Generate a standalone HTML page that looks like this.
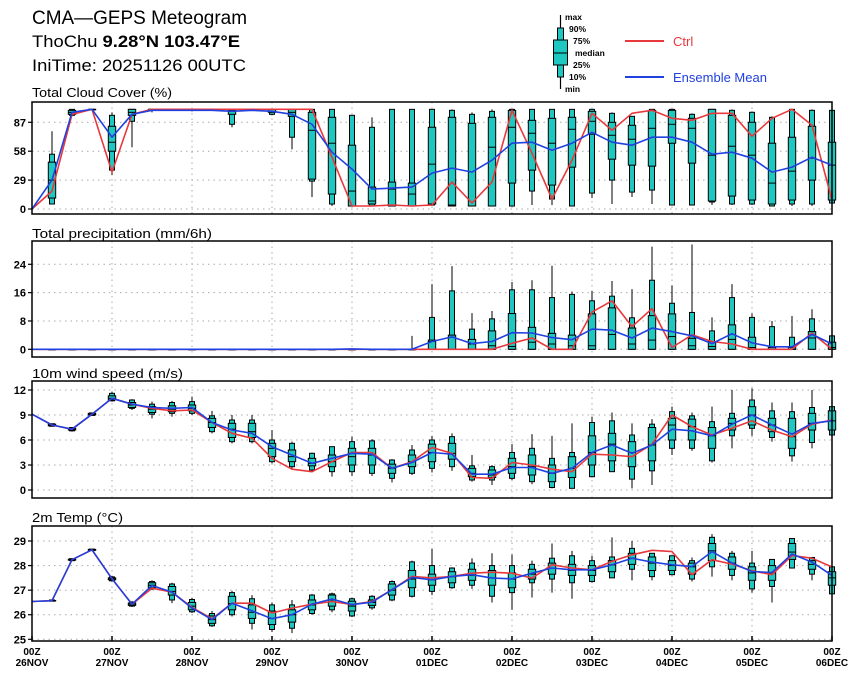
<!DOCTYPE html>
<html><head><meta charset="utf-8">
<style>
html,body{margin:0;padding:0;background:#fff;}
svg{display:block;font-family:"Liberation Sans",sans-serif;}
</style></head>
<body>
<svg id="chart" width="860" height="680" viewBox="0 0 860 680">
  <text x="32" y="24" font-size="19" textLength="215" lengthAdjust="spacingAndGlyphs">CMA—GEPS Meteogram</text>
  <text x="32" y="47" font-size="17" textLength="208" lengthAdjust="spacingAndGlyphs">ThoChu <tspan font-weight="bold">9.28°N 103.47°E</tspan></text>
  <text x="32" y="71" font-size="17" textLength="214" lengthAdjust="spacingAndGlyphs">IniTime: 20251126 00UTC</text>
  <g id="legend">
    <line x1="560.5" y1="15" x2="560.5" y2="89" stroke="#000" stroke-width="1.2"/>
    <rect x="557.5" y="28" width="6" height="49" fill="#1ec8c0" stroke="#000"/>
    <rect x="553.5" y="40" width="14" height="25" fill="#1ec8c0" stroke="#000"/>
    <line x1="553.5" y1="53" x2="567.5" y2="53" stroke="#000"/>
    <g font-size="8.5" font-weight="bold">
      <text x="565" y="20">max</text>
      <text x="569" y="32">90%</text>
      <text x="573" y="44">75%</text>
      <text x="575" y="56">median</text>
      <text x="573" y="68">25%</text>
      <text x="569" y="80">10%</text>
      <text x="565" y="92">min</text>
    </g>
    <line x1="625" y1="41" x2="664" y2="41" stroke="#e8383c" stroke-width="2"/>
    <text x="673" y="46" font-size="13" fill="#e8383c">Ctrl</text>
    <line x1="625" y1="77" x2="664" y2="77" stroke="#2040e0" stroke-width="2"/>
    <text x="673" y="82" font-size="13" fill="#2040e0">Ensemble Mean</text>
  </g>
</svg>
<script>
// ---- data ----
const dayLabels = ["26NOV","27NOV","28NOV","29NOV","30NOV","01DEC","02DEC","03DEC","04DEC","05DEC","06DEC"];
const cloudTicks = [0,29,58,87];
const precipTicks = [0,8,16,24];
const windTicks = [0,3,6,9,12];
const tempTicks = [25,26,27,28,29];

const cloudCtrl = [0,18,95,100,37,95,100,100,100,100,100,100,100,100,100,52,3,3,4,3,4,27,6,27,99,56,10,49,96,79,96,99,91,89,96,96,73,91,100,84,9];
const cloudMean = [0,29,97,100,72,95,99,99,99,99,98,99,98,95,85,57,40,20,21,22,36,41,37,49,66,67,59,66,77,67,64,72,72,67,55,57,51,37,42,52,44];
const cloudBox = [null,
[5,5,11,29,47,55,78],[93,94,95,97,99,100,100],[100,100,100,100,100,100,100],[34,39,58,67,83,94,97],
[62,88,94,97,100,100,100],[97,99,99,100,100,100,100],[100,100,100,100,100,100,100],[98,99,100,100,100,100,100],
[100,100,100,100,100,100,100],[82,85,95,98,99,100,100],[100,100,100,100,100,100,100],[94,95,97,100,100,100,100],
[60,72,93,97,100,100,100],[12,28,30,79,97,100,100],[3,5,15,66,92,100,100],[3,3,3,18,64,94,94],
[3,3,5,8,22,82,92],[3,3,3,20,27,100,100],[3,3,3,15,26,100,100],[3,4,5,45,82,100,100],
[3,3,3,4,92,99,100],[3,3,3,3,86,95,97],[3,3,3,62,92,98,100],[3,3,26,82,99,100,100],
[4,18,39,76,89,100,100],[4,10,24,66,91,100,100],[3,3,42,80,92,100,100],[11,16,75,88,98,100,100],
[5,29,50,74,87,96,97],[12,17,44,70,84,93,93],[5,19,43,81,99,100,100],[4,4,66,85,99,100,100],
[4,4,46,81,91,95,96],[4,7,8,54,100,100,100],[4,5,13,63,94,99,100],[4,5,9,54,87,97,98],
[3,3,5,26,66,92,93],[3,5,9,38,72,100,100],[3,5,29,51,83,99,100],[3,6,9,44,67,99,100]];

const precipCtrl = [0,0,0,0,0,0,0,0,0,0,0,0,0,0,0,0,0,0,0,0,0,0,0,0,1.7,3.2,0,0,10.5,13.7,6.4,11.5,0.5,4.1,2.2,1.5,0,0,0,4.6,0];
const precipMean = [0,0,0,0,0,0,0,0,0,0,0,0,0,0,0,0,0.1,0,0,0,2.2,3.5,1.6,2.2,4.7,4.6,3.3,2.7,5.7,5.4,3.2,6,5,3.8,1.6,4.4,1.8,0.7,0.7,4.2,1.5];
const precipBox = [null,
[0,0,0,0,0,0,0],[0,0,0,0,0,0,0],[0,0,0,0,0,0,0],[0,0,0,0,0,0,0],[0,0,0,0,0,0,0],
[0,0,0,0,0,0,0],[0,0,0,0,0,0,0],[0,0,0,0,0,0,0],[0,0,0,0,0,0,0],[0,0,0,0,0,0,0],
[0,0,0,0,0,0,0],[0,0,0,0,0,0,0],[0,0,0,0,0,0,0],[0,0,0,0,0,0,0],[0,0,0,0,0,0,0],
[0,0,0,0,0,0,0.3],[0,0,0,0,0,0,0],[0,0,0,0,0,0,0],[0,0,0,0,0,0,3.8],
[0,0,0,2.2,2.6,9,18.4],[0,0,0,3.4,4,16.5,23.5],[0,0,0,1.5,2.8,5.7,10.2],[0,0,0,1,5.2,8.6,10.8],
[0,0,0,0.8,10.1,16.8,19],[0,0,0,2,6.2,16.8,19.5],[0,0,0,1.5,4.5,14.6,23.6],[0,0,0,1,4,15.5,16.3],
[0,0,0,1,10,13.7,16.5],[0,0,0,4.2,11.7,15,19.3],[0,0,0,1.5,6,8.9,17],[0,0,0,2.6,9.5,19.5,29],
[0,0,0,3.6,10,13,18],[0,0,0,1,3.1,10.4,29.6],[0,0,0,0.8,2.2,5.2,9],[0,0,0,2.8,6.9,14.6,18.4],
[0,0,0,0.5,3.4,9,10.1],[0,0,0,0,0.5,6.4,8],[0,0,0,0,0.5,3.4,9.4],[0,0,0,3.2,5,8.6,11.3],[0,0,0,0.5,2,3.8,4]];

const windCtrl = [9.1,7.8,7.3,9.1,11,10.3,9.8,9.5,9.6,8.1,6.8,6.2,3.8,2.5,2.2,3.4,4.5,4.5,2.6,3.4,5.1,4.4,1.5,1.4,3.3,3,2.5,2.2,4.3,4.2,4,5.5,9,7.6,6.6,7.4,8.3,7.2,6.4,7.9,8.4];
const windMean = [9.1,7.8,7.3,9.1,11,10.3,9.9,9.8,9.9,8.1,7.2,6.8,5.2,4.2,3.2,3.8,4.4,4.3,2.6,3.3,4.5,4.3,1.9,1.9,2.7,2.7,2,2.6,4.5,5.4,4.4,5.4,7.3,7.1,6.5,7.9,9,7.8,6.7,8,8.3];
const windBox = [null,
[7.6,7.65,7.7,7.8,7.9,7.95,8],[7,7.1,7.2,7.3,7.4,7.5,7.5],[8.9,8.95,9,9.1,9.2,9.25,9.3],[10.6,10.7,10.8,11,11.3,11.6,11.8],
[9.6,9.8,9.9,10.2,10.5,10.8,10.9],[8.6,9.1,9.3,9.7,10,10.3,10.6],[8.8,9.2,9.4,9.7,10.1,10.5,10.7],[9,9.2,9.5,9.8,10.2,10.6,11.2],
[6.8,7,7.5,8.1,8.6,8.9,9.5],[5.6,5.8,6.3,7.3,8,8.4,9],[5.6,5.8,6.3,7,8,8.4,9],[3.2,3.4,4,5,5.6,6,7.2],
[2.4,2.8,3.4,4,4.8,5.6,5.8],[2.1,2.4,2.9,3.2,3.8,4.4,4.5],[1.6,2.2,2.8,3.4,4.2,5.2,5.2],[1.7,2.2,3,4,5,5.8,6.4],
[1.7,2,3,4.2,5,5.9,6.1],[0.9,1.4,2,2.6,3.1,3.6,3.7],[1.8,2,2.8,3.4,4.2,4.8,5.4],[2.1,2.6,3.4,4.5,5.5,6,6.5],
[2.3,2.8,3.7,4.4,5.6,6.4,6.8],[1,1.2,1.6,2,2.6,2.9,4.2],[0.6,1.2,1.5,1.8,2.4,2.8,3],[1.2,1.4,2,2.8,3.8,4.5,5.5],
[0.7,1,1.8,2.8,4.2,5,6.7],[0.2,0.3,1,2,3,3.8,6.5],[0.2,0.2,1.5,2.6,4,4.5,8],[1.5,1.6,3,4.5,6.5,8.1,8.8],
[2.2,2.2,3.5,5.5,6.8,8.3,9.3],[0.2,1.3,2.8,4.5,5.8,6.6,8],[0.6,2.3,3.5,5.4,7.5,7.9,8.5],[4.2,5,6,7.8,8.6,9.4,10],
[4.7,5,6,7.6,8.5,8.9,9.3],[3.3,3.5,5,6.5,7.5,8.2,10],[5,6.5,7.2,8,8.6,9.2,12],[6.5,7.4,7.8,9,10,10.8,12.2],
[5.8,6.3,7,7.8,8.6,9.5,10.5],[3.4,4.1,5,6.4,8.6,9.4,10.5],[5,5.7,7.2,8,9.2,9.9,12],[6.5,6.6,7.2,8.3,9.5,10,10.2]];

const tempCtrl = [26.54,26.57,28.24,28.64,27.46,26.43,27.08,26.92,26.3,25.84,26.47,26.47,26.07,26.27,26.43,26.54,26.41,26.54,27.02,27.56,27.5,27.56,27.69,27.73,27.69,27.49,28.03,27.9,27.83,28.17,28.44,28.62,28.57,27.63,28.24,28.06,27.79,27.63,28.41,28.3,27.94];
const tempMean = [26.54,26.57,28.24,28.64,27.46,26.43,27.19,26.92,26.27,25.8,26.47,26.16,25.84,26,26.43,26.64,26.41,26.51,27.02,27.52,27.42,27.56,27.63,27.49,27.46,27.69,27.9,27.83,27.83,28.03,28.3,28.14,28.03,27.96,28.57,28.1,27.76,27.72,28.47,28.14,27.6];
const tempBox = [null,
[26.55,26.55,26.56,26.57,26.58,26.6,26.6],[28.18,28.2,28.22,28.24,28.26,28.28,28.3],[28.6,28.61,28.62,28.64,28.66,28.67,28.68],[27.35,27.38,27.42,27.46,27.5,27.54,27.58],
[26.32,26.35,26.38,26.43,26.48,26.52,26.55],[27,27.05,27.1,27.2,27.3,27.35,27.4],[26.47,26.6,26.8,26.95,27.15,27.25,27.3],[26.07,26.12,26.2,26.35,26.5,26.62,26.68],
[25.5,25.55,25.65,25.8,25.95,26.05,26.15],[25.93,26,26.2,26.45,26.75,26.9,26.97],[25.4,25.65,25.85,26.1,26.4,26.65,26.8],[25.3,25.4,25.6,25.85,26.15,26.4,26.5],
[25.25,25.45,25.7,26,26.2,26.4,26.6],[26,26.05,26.2,26.4,26.6,26.8,26.85],[26.1,26.2,26.35,26.6,26.8,26.85,26.9],[25.9,25.95,26.15,26.35,26.55,26.65,26.7],
[26.2,26.28,26.38,26.5,26.6,26.75,26.8],[26.55,26.6,26.8,27,27.25,27.35,27.4],[26.7,26.75,27.1,27.45,27.8,28.15,28.2],[26.8,26.95,27.2,27.42,27.65,28,28.68],
[27.05,27.1,27.3,27.55,27.75,27.9,27.93],[27.05,27.2,27.4,27.6,27.85,28.1,28.3],[26.5,26.75,27.2,27.5,27.8,28,28.5],[26.2,26.9,27.1,27.45,27.7,28,28.45],
[26.7,27.3,27.45,27.65,27.85,28.05,28.2],[26.9,27.45,27.65,27.9,28.1,28.3,28.9],[26.65,27.3,27.6,27.8,28.05,28.4,28.6],[27.3,27.35,27.6,27.8,28,28.2,28.4],
[27.5,27.5,27.75,28.03,28.2,28.35,29.15],[27.4,27.85,28.05,28.3,28.5,28.7,29],[27.4,27.55,27.8,28.1,28.35,28.5,28.5],[27.6,27.63,27.8,28,28.2,28.4,28.4],
[27.35,27.45,27.65,27.95,28.1,28.2,28.33],[27.55,27.95,28.2,28.6,28.9,29.15,29.28],[27.4,27.6,27.85,28.1,28.35,28.5,28.6],[26.9,27.05,27.4,27.7,27.95,28.1,28.6],
[26.5,27.15,27.4,27.7,28,28.25,28.25],[27.9,27.9,28.25,28.55,28.9,29.1,29.1],[27.4,27.65,27.85,28.05,28.2,28.33,28.33],[26.8,26.85,27.2,27.5,27.75,27.95,28]];

// ---- drawing ----
const NS = "http://www.w3.org/2000/svg";
const svg = document.getElementById("chart");
const X0 = 32, X1 = 832, NSTEP = 40;
function xOf(i){ return X0 + (X1 - X0) * i / NSTEP; }
function mk(tag, attrs, parent){
  const e = document.createElementNS(NS, tag);
  for (const k in attrs) e.setAttribute(k, attrs[k]);
  (parent || svg).appendChild(e);
  return e;
}

const panels = [
  {key:"cloud", title:"Total Cloud Cover (%)", titleW:140, titleY:97, top:102, bot:214, v0:0, y0:209, v1:87, y1:122.3, ticks:cloudTicks, ctrl:cloudCtrl, mean:cloudMean, box:cloudBox},
  {key:"precip", title:"Total precipitation (mm/6h)", titleW:180, titleY:238, top:241, bot:357, v0:0, y0:349.3, v1:24, y1:264.3, ticks:precipTicks, ctrl:precipCtrl, mean:precipMean, box:precipBox},
  {key:"wind", title:"10m wind speed (m/s)", titleW:151, titleY:378, top:381, bot:498, v0:0, y0:490, v1:12, y1:390, ticks:windTicks, ctrl:windCtrl, mean:windMean, box:windBox},
  {key:"temp", title:"2m Temp (°C)", titleW:91, titleY:522, top:526, bot:641, v0:25, y0:639.3, v1:29, y1:541, ticks:tempTicks, ctrl:tempCtrl, mean:tempMean, box:tempBox}
];

panels.forEach(function(p){
  const yOf = function(v){ return p.y0 + (v - p.v0) * (p.y1 - p.y0) / (p.v1 - p.v0); };
  const g = mk("g", {});
  
  

  const t = mk("text", {x:32, y:p.titleY, "font-size":13, textLength:p.titleW, lengthAdjust:"spacingAndGlyphs"}, g);
  t.textContent = p.title;
  
  

  for (let d = 1; d < 10; d++){
    const x = xOf(d*4);
    const gl = mk("line", {x1:x, x2:x, y1:p.top, y2:p.bot, stroke:"#aaa", "stroke-width":1, "stroke-dasharray":"1.5,4"}, g);
    
    
  }
  p.ticks.forEach(function(tv){
    const y = yOf(tv);
    const gl = mk("line", {x1:X0, x2:X1, y1:y, y2:y, stroke:"#aaa", "stroke-width":1, "stroke-dasharray":"1.5,4"}, g);
    
    
    const tk = mk("line", {x1:X0-4, x2:X0, y1:y, y2:y, stroke:"#000", "stroke-width":1.2}, g);
    
    
    const lb = mk("text", {x:X0-6, y:y+4, "font-size":11, "font-weight":"bold", "text-anchor":"end"}, g);
    lb.textContent = String(tv);
    
    
  });

  p.box.forEach(function(b, i){
    if (!b) return;
    const x = xOf(i);
    const bg = mk("g", {}, g);
    
    
    mk("line", {x1:x, x2:x, y1:yOf(b[6]), y2:yOf(b[0]), stroke:"#000", "stroke-width":1}, bg);
    const y90 = yOf(b[5]), y10 = yOf(b[1]);
    mk("rect", {x:x-2.5, y:y90, width:5, height:Math.max(0.5, y10-y90), fill:"#1ec8c0", stroke:"#000", "stroke-width":1}, bg);
    const y75 = yOf(b[4]), y25 = yOf(b[2]);
    mk("rect", {x:x-3.7, y:y75, width:7.4, height:Math.max(0.5, y25-y75), fill:"#1ec8c0", stroke:"#000", "stroke-width":1}, bg);
    const ym = yOf(b[3]);
    mk("line", {x1:x-3.7, x2:x+3.7, y1:ym, y2:ym, stroke:"#000", "stroke-width":1}, bg);
  });

  const pts = function(arr){ return arr.map(function(v,i){ return xOf(i).toFixed(1)+","+yOf(v).toFixed(1); }).join(" "); };
  const lc = mk("polyline", {points:pts(p.ctrl), fill:"none", stroke:"#e8383c", "stroke-width":1.6, "stroke-linejoin":"round"}, g);
  
  
  const lm = mk("polyline", {points:pts(p.mean), fill:"none", stroke:"#2040e0", "stroke-width":1.6, "stroke-linejoin":"round"}, g);
  
  

  const fr = mk("rect", {x:X0, y:p.top, width:X1-X0, height:p.bot-p.top, fill:"none", stroke:"#000", "stroke-width":1.5}, g);
  
  

  if (p.key === "temp"){
    dayLabels.forEach(function(lab, d){
      const x = xOf(d*4);
      const tk = mk("line", {x1:x, x2:x, y1:p.bot, y2:p.bot-5, stroke:"#000", "stroke-width":1.5}, g);
      
      
      const a = mk("text", {x:x, y:655, "font-size":10, "font-weight":"bold", "text-anchor":"middle"}, g);
      a.textContent = "00Z";
      
      
      const b = mk("text", {x:x, y:666, "font-size":10, "font-weight":"bold", "text-anchor":"middle"}, g);
      b.textContent = lab;
      
      
    });
  }
});
</script>
</body></html>
